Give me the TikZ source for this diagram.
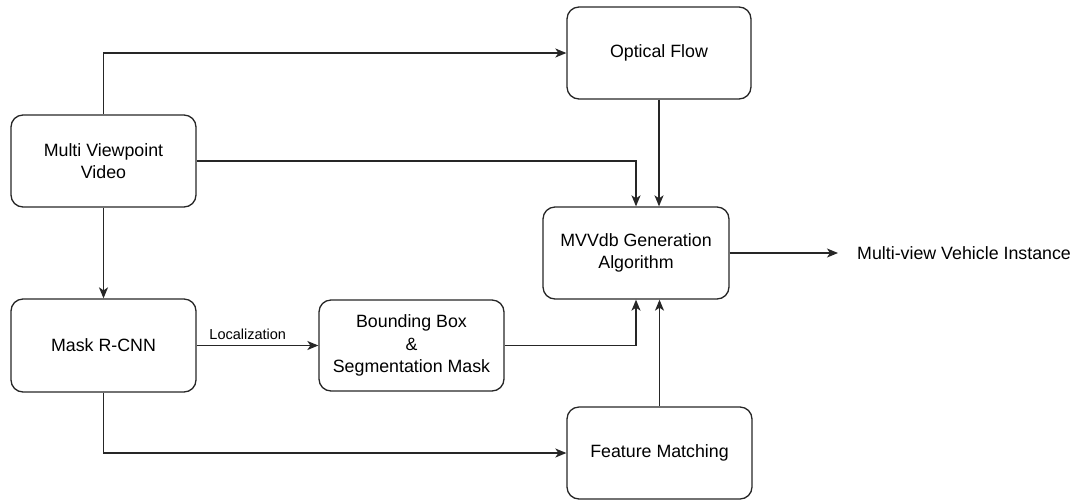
\documentclass[tikz,border=0pt]{standalone}
\usepackage{fontspec}
\setmainfont{Liberation Sans}
\usetikzlibrary{arrows.meta,calc}
\begin{document}
\begin{tikzpicture}[x=1pt,y=-1pt,
  box/.style={draw=black!85,line width=1.3pt,rounded corners=12pt,align=center,
    inner sep=0pt,font=\fontsize{17.8}{22.5}\selectfont},
  conn/.style={draw=black!85,line width=1.3pt,-{Stealth[length=11pt,width=9pt,inset=3pt]}}]
\useasboundingbox (0,0) rectangle (1083,499);
\node[box,minimum width=184pt,minimum height=92pt] (of) at (659,53) {Optical Flow};
\node[box,minimum width=185pt,minimum height=92pt] (mvv) at (103.5,161) {Multi Viewpoint\\Video};
\node[box,minimum width=186pt,minimum height=92pt] (gen) at (636,253) {MVVdb Generation\\Algorithm};
\node[box,minimum width=185pt,minimum height=93pt] (mask) at (103.5,345.5) {Mask R-CNN};
\node[box,minimum width=185pt,minimum height=91pt] (bbox) at (411.5,345.5) {Bounding Box\\\&\\Segmentation Mask};
\node[box,minimum width=185pt,minimum height=92pt] (fm) at (659.5,453) {Feature Matching};
\coordinate (out) at (838,253);
\node[anchor=west,font=\fontsize{17.8}{22}\selectfont,inner sep=0pt] (res) at (857,253) {Multi-view Vehicle Instance};
\draw[conn] (mvv.north) |- (of.west);
\draw[conn] (mvv.east) -| (gen.north);
\draw[conn] (of.south) -- (of.south |- gen.north);
\draw[conn] (mvv.south) -- (mask.north);
\draw[conn] (mask.east) -- node[above=5pt,pos=0.42,font=\fontsize{14.5}{17}\selectfont,inner sep=0pt]{Localization} (bbox.west);
\draw[conn] (bbox.east) -| (gen.south);
\draw[conn] (fm.north) -- (fm.north |- gen.south);
\draw[conn] (mask.south) |- (fm.west);
\draw[conn] (gen.east) -- (out);
\end{tikzpicture}
\end{document}
